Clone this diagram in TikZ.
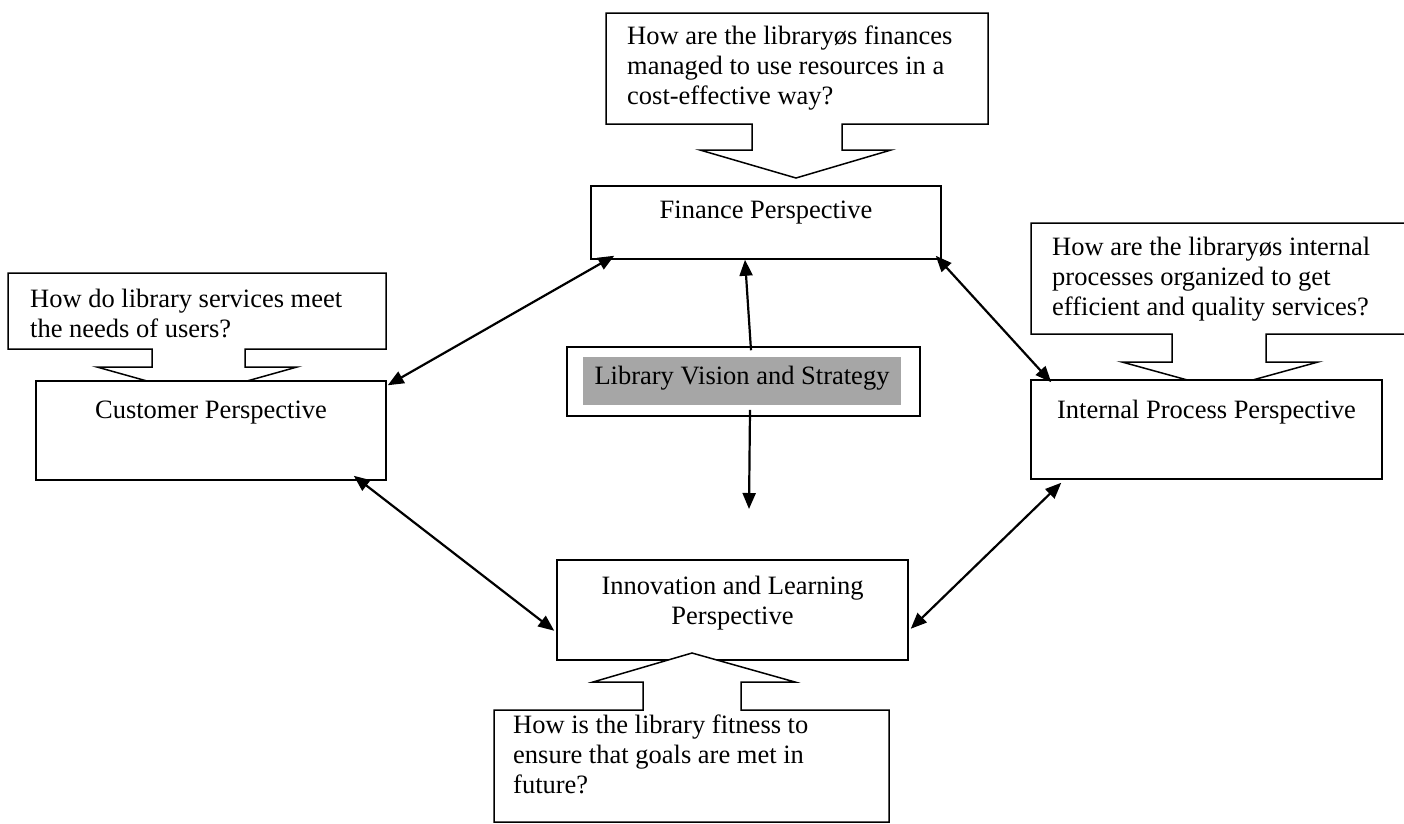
\documentclass[tikz,border=0pt]{standalone}
\usepackage{fontspec}
\setmainfont{Liberation Serif}
\usetikzlibrary{arrows.meta}
\definecolor{visgray}{RGB}{166,166,166}
\newcommand\dfont{\fontsize{26.5}{30}\selectfont}
\newcommand\tr{\rule{0pt}{22pt}}
\begin{document}
\begin{tikzpicture}[x=1pt,y=-1pt,
  box/.style={draw=black, line width=1.5pt, fill=white, inner sep=0pt},
  callout/.style={draw=black, line width=1.5pt, line join=miter, fill=white},
  qtext/.style={font=\dfont, align=left, anchor=north west, inner sep=0pt},
  ptext/.style={font=\dfont, align=center, anchor=north, inner sep=0pt},
  tip/.style={Triangle[length=16pt,width=13pt]},
  conn/.style={line width=2.2pt, {Triangle[length=16pt,width=13pt]}-{Triangle[length=16pt,width=13pt]}},
  oneway/.style={line width=2.2pt, -{Triangle[length=16pt,width=13pt]}}]
\useasboundingbox (0,0) rectangle (1404,823);

% callouts partly hidden behind the boxes
\draw[callout] (8,273) -- (386,273) -- (386,349) -- (245,349) -- (245,367) -- (297,367)
  -- (197,395) -- (97,367) -- (152,367) -- (152,349) -- (8,349) -- cycle;
\draw[callout] (1031,223) -- (1408,223) -- (1408,334) -- (1266,334) -- (1266,362) -- (1318,362)
  -- (1220,389) -- (1122,362) -- (1172,362) -- (1172,334) -- (1031,334) -- cycle;
\draw[callout] (606,13) -- (988,13) -- (988,124) -- (842,124) -- (842,150) -- (891,150)
  -- (796,178) -- (700,150) -- (752,150) -- (752,124) -- (606,124) -- cycle;

% boxes
\node[box, minimum width=350pt, minimum height=73pt] (fin) at (766,222.5) {};
\node[box, minimum width=350pt, minimum height=99pt] (cust) at (211,430.5) {};
\node[box, minimum width=351pt, minimum height=99pt] (int) at (1206.5,429.5) {};
\node[box, minimum width=353pt, minimum height=69pt] (vis) at (743.5,381.5) {};
\node[fill=visgray, inner sep=0pt, minimum width=318pt, minimum height=48pt] (visin) at (742,381) {};
\node[box, minimum width=351pt, minimum height=100pt] (inn) at (732.5,610) {};

% bottom callout (apex visible inside the innovation box)
\draw[callout] (494,710) -- (643,710) -- (643,682) -- (593,682) -- (692,653) -- (795,682)
  -- (741,682) -- (741,710) -- (889,710) -- (889,822) -- (494,822) -- cycle;

% texts (first baseline = y + 22)
\node[qtext] (qfin) at (627,22) {\tr How are the libraryøs finances\\managed to use resources in a\\cost-effective way?};
\node[qtext] (qcust) at (30,285) {\tr How do library services meet\\the needs of users?};
\node[qtext] (qint) at (1052,233) {\tr How are the libraryøs internal\\processes organized to get\\efficient and quality services?};
\node[qtext] (qinn) at (513,711) {\tr How is the library fitness to\\ensure that goals are met in\\future?};

\node[ptext] (tfin) at (766,196) {\tr Finance Perspective};
\node[ptext] (tcust) at (211,396) {\tr Customer Perspective};
\node[ptext] (tint) at (1206.5,396) {\tr Internal Process Perspective};
\node[ptext] (tvis) at (742,362) {\tr Library Vision and Strategy};
\node[ptext] (tinn) at (732.5,572) {\tr Innovation and Learning\\Perspective};

% connectors
\draw[conn] ([shift={(24,-4)}]fin.south west) -- ([shift={(1,5)}]cust.north east);
\draw[conn] ([shift={(-6,-4)}]fin.south east) -- ([shift={(21,3)}]int.north west);
\draw[conn] ([shift={(-33,-5)}]cust.south east) -- ([shift={(-2,-30)}]inn.south west);
\draw[conn] ([shift={(2,-32)}]inn.south east) -- ([shift={(31,3)}]int.south west);
\draw[oneway] ([shift={(7.5,4)}]vis.north) -- ([shift={(-21,0)}]fin.south);
\coordinate (vend) at (749,509);
\draw[oneway] ([shift={(6.5,-7)}]vis.south) -- (vend);
\end{tikzpicture}
\end{document}
